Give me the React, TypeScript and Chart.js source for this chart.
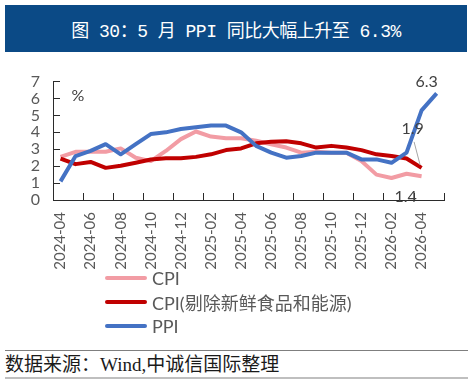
import { useEffect, useRef } from "react";
import { Chart, registerables } from "chart.js";

Chart.register(...registerables);

// Monthly year-on-year rates, %
const months = [
  "2024-04", "2024-05", "2024-06", "2024-07", "2024-08", "2024-09", "2024-10",
  "2024-11", "2024-12", "2025-01", "2025-02", "2025-03", "2025-04", "2025-05",
  "2025-06", "2025-07", "2025-08", "2025-09", "2025-10", "2025-11", "2025-12",
  "2026-01", "2026-02", "2026-03", "2026-04", "2026-05",
];

const cpi = [
  2.55, 2.85, 2.85, 2.85, 3.05, 2.5, 2.3, 2.9, 3.6, 4.05, 3.75, 3.65, 3.65,
  3.5, 3.3, 3.1, 2.8, 2.85, 2.8, 2.8, 2.3, 1.5, 1.3, 1.55, 1.4,
];

const coreCpi = [
  2.45, 2.12, 2.25, 1.9, 2.03, 2.2, 2.39, 2.47, 2.47, 2.55, 2.7, 2.95, 3.05,
  3.35, 3.45, 3.47, 3.35, 3.1, 3.2, 3.1, 2.95, 2.7, 2.6, 2.45, 1.9,
];

const ppi = [
  1.1, 2.6, 2.9, 3.3, 2.7, 3.3, 3.9, 4.0, 4.2, 4.3, 4.4, 4.4, 4.0, 3.2, 2.8,
  2.5, 2.6, 2.8, 2.8, 2.8, 2.4, 2.4, 2.2, 2.8, 5.3, 6.3,
];

const seriesNames = ["CPI", "CPI(剔除新鲜食品和能源)", "PPI"];
const seriesColors = ["#F29CA4", "#C00000", "#4472C4"];

const TEXT_GRAY = "#595959";
const LABEL_GRAY = "#404040";
const AXIS_COLOR = "#2b2b2b";
const LATIN_FONT = "Lato, 'Noto Sans CJK SC', sans-serif";

// Unit mark and end-of-series value labels
const annotations = {
  id: "annotations",
  afterDatasetsDraw(chart: any) {
    const { ctx, chartArea } = chart;
    const x = chart.scales.x;
    const y = chart.scales.y;
    ctx.save();
    ctx.fillStyle = LABEL_GRAY;
    ctx.font = "16px " + LATIN_FONT;
    ctx.textAlign = "center";
    ctx.textBaseline = "middle";

    ctx.fillText("%", chartArea.left + 25, y.getPixelForValue(6.15));

    const pi = ppi.length - 1;
    const ppx = x.getPixelForValue(pi);
    const ppy = y.getPixelForValue(ppi[pi]);
    ctx.fillText(ppi[pi].toFixed(1), ppx - 10, ppy - 12);

    const ci = coreCpi.length - 1;
    const cx = x.getPixelForValue(ci);
    const cy = y.getPixelForValue(coreCpi[ci]);
    ctx.strokeStyle = "#a6a6a6";
    ctx.lineWidth = 1;
    ctx.beginPath();
    ctx.moveTo(cx - 7.5, cy - 26);
    ctx.lineTo(cx - 1.5, cy - 3);
    ctx.stroke();
    ctx.fillText(coreCpi[ci].toFixed(1), cx - 9, cy - 39);

    const hi = cpi.length - 1;
    const hx = x.getPixelForValue(hi);
    const hy = y.getPixelForValue(cpi[hi]);
    ctx.fillText(cpi[hi].toFixed(1), hx - 16, hy + 21);
    ctx.restore();
  },
};

function ChartCanvas() {
  const ref = useRef<HTMLCanvasElement | null>(null);

  useEffect(() => {
    if (!ref.current) return;
    const lineStyle = {
      borderWidth: 4,
      pointRadius: 0,
      pointHoverRadius: 0,
      tension: 0,
      fill: false,
      borderJoinStyle: "round" as const,
    };
    const chart = new Chart(ref.current, {
      type: "line",
      data: {
        labels: months,
        datasets: [
          { label: seriesNames[0], data: cpi, borderColor: seriesColors[0], backgroundColor: seriesColors[0], order: 3, ...lineStyle },
          { label: seriesNames[1], data: coreCpi, borderColor: seriesColors[1], backgroundColor: seriesColors[1], order: 2, ...lineStyle },
          { label: seriesNames[2], data: ppi, borderColor: seriesColors[2], backgroundColor: seriesColors[2], order: 1, ...lineStyle },
        ],
      },
      options: {
        responsive: false,
        animation: false,
        devicePixelRatio: 1,
        layout: { padding: { left: 0, right: 19, top: 16, bottom: 0 } },
        plugins: {
          legend: { display: false },
          tooltip: { enabled: false },
          title: { display: false },
        },
        scales: {
          x: {
            type: "category",
            offset: true,
            afterFit: (scale: any) => {
              scale.height = 72;
            },
            border: { display: true, color: AXIS_COLOR, width: 1 },
            grid: {
              drawOnChartArea: false,
              drawTicks: true,
              tickLength: -7,
              offset: true,
              color: (c: any) =>
                c.index === undefined || c.index % 2 === 0 ? AXIS_COLOR : "rgba(0,0,0,0)",
            },
            ticks: {
              autoSkip: false,
              minRotation: 90,
              maxRotation: 90,
              padding: 19,
              color: TEXT_GRAY,
              font: { family: LATIN_FONT, size: 15 },
              callback: (_v: any, i: number) => (i % 2 === 0 ? months[i] : ""),
            },
          },
          y: {
            min: 0,
            max: 7,
            afterFit: (scale: any) => {
              scale.width = 53;
            },
            border: { display: true, color: AXIS_COLOR, width: 1 },
            grid: {
              drawOnChartArea: false,
              drawTicks: true,
              tickLength: -7,
              color: AXIS_COLOR,
            },
            ticks: {
              stepSize: 1,
              autoSkip: false,
              padding: 20,
              color: TEXT_GRAY,
              font: { family: LATIN_FONT, size: 16 },
            },
          },
        },
      },
      plugins: [annotations],
    });
    return () => chart.destroy();
  }, []);

  return <canvas ref={ref} width={474} height={220} style={{ display: "block" }} />;
}

export default function App() {
  return (
    <div
      style={{
        position: "absolute",
        left: 0,
        top: 0,
        width: 474,
        height: 385,
        background: "#ffffff",
        overflow: "hidden",
      }}
    >
      <div
        style={{
          position: "absolute",
          left: 5,
          top: 5,
          width: 462,
          height: 47,
          background: "#0b4a86",
          color: "#ffffff",
          display: "flex",
          alignItems: "center",
          justifyContent: "center",
          fontFamily: "'Liberation Mono', 'Noto Sans CJK SC', monospace",
          fontSize: 18,
          letterSpacing: -0.5,
          whiteSpace: "pre",
        }}
      >
        图 30：5 月 PPI 同比大幅上升至 6.3%
      </div>

      <div style={{ position: "absolute", left: 0, top: 52, width: 474, height: 220 }}>
        <ChartCanvas />
      </div>

      <div style={{ position: "absolute", left: 105, top: 266 }}>
        {seriesNames.map((name, i) => (
          <div key={name} style={{ display: "flex", alignItems: "center", height: 24 }}>
            <span
              style={{
                display: "inline-block",
                width: 42,
                height: 4,
                borderRadius: 2,
                background: seriesColors[i],
                marginRight: 5,
              }}
            />
            <span style={{ fontFamily: LATIN_FONT, fontSize: 18, color: TEXT_GRAY, whiteSpace: "pre" }}>
              {name}
            </span>
          </div>
        ))}
      </div>

      <div style={{ position: "absolute", left: 5, top: 350, width: 463, height: 1, background: "#7f7f7f" }} />
      <div
        style={{
          position: "absolute",
          left: 5,
          top: 353,
          height: 24,
          lineHeight: "24px",
          fontFamily: "'Liberation Serif', 'Noto Sans CJK SC', serif",
          fontSize: 19,
          color: "#1a1a1a",
          whiteSpace: "pre",
        }}
      >
        数据来源：Wind,中诚信国际整理
      </div>
      <div style={{ position: "absolute", left: 5, top: 377, width: 463, height: 2, background: "#bfbfbf" }} />
    </div>
  );
}
